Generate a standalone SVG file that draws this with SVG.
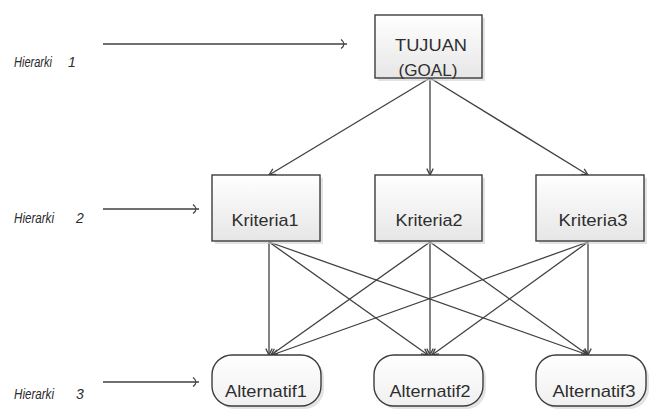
<svg xmlns="http://www.w3.org/2000/svg" width="651" height="419" viewBox="0 0 651 419">
<style>
  .box { stroke: #3c3c3c; stroke-width: 1.4; fill: url(#g); }
  .alt { stroke: #3c3c3c; stroke-width: 1.4; fill: url(#g2); }
  .shadow { fill: #d0d0d0; opacity: 0.6; }
  .lbl { font-family: "Liberation Sans", Arial, sans-serif; font-size: 17px; fill: #2e2e2e; text-anchor: middle; }
  .h { font-family: "Liberation Sans", Arial, sans-serif; font-size: 14px; font-style: italic; fill: #2a2a2a; }
  .c line { stroke: #404040; stroke-width: 1.3; fill: none; marker-end: url(#ah); }
  .hl { stroke: #404040; stroke-width: 1.3; fill: none; marker-end: url(#ah2); }
</style>
<defs>
  <linearGradient id="g" x1="0" y1="0" x2="0" y2="1">
    <stop offset="0" stop-color="#ffffff"/>
    <stop offset="1" stop-color="#e6e6e6"/>
  </linearGradient>
  <linearGradient id="g2" x1="0" y1="0" x2="0" y2="1">
    <stop offset="0" stop-color="#ffffff"/>
    <stop offset="1" stop-color="#f0f0f0"/>
  </linearGradient>
  <marker id="ah" viewBox="0 0 10 10" refX="9" refY="5" markerWidth="8" markerHeight="8" markerUnits="userSpaceOnUse" orient="auto">
    <path d="M1,1 L9,5 L1,9" fill="none" stroke="#404040" stroke-width="1.6"/>
  </marker>
  <marker id="ah2" viewBox="0 0 10 10" refX="9" refY="5" markerWidth="10" markerHeight="10" markerUnits="userSpaceOnUse" orient="auto">
    <path d="M3,0.5 Q9,5 3,9.5" fill="none" stroke="#404040" stroke-width="1.2"/>
  </marker>
</defs>
<rect width="651" height="419" fill="#ffffff"/>

<g id="levels">
  <text class="h" x="14" y="67"><tspan textLength="38" lengthAdjust="spacingAndGlyphs">Hierarki</tspan><tspan x="68">1</tspan></text>
  <line class="hl" x1="103" y1="44" x2="347" y2="44"/>
  <text class="h" x="14" y="223"><tspan textLength="40" lengthAdjust="spacingAndGlyphs">Hierarki</tspan><tspan x="76">2</tspan></text>
  <line class="hl" x1="103" y1="209" x2="199" y2="209"/>
  <text class="h" x="14" y="399"><tspan textLength="40" lengthAdjust="spacingAndGlyphs">Hierarki</tspan><tspan x="76">3</tspan></text>
  <line class="hl" x1="103" y1="382" x2="199" y2="382"/>
</g>

<g id="connectors" class="c">
  <line x1="430" y1="78" x2="269" y2="175"/>
  <line x1="430" y1="78" x2="430" y2="175"/>
  <line x1="430" y1="78" x2="588" y2="175"/>

  <line x1="269" y1="242" x2="269" y2="355"/>
  <line x1="269" y1="242" x2="428" y2="355"/>
  <line x1="269" y1="242" x2="588" y2="355"/>
  <line x1="430" y1="242" x2="271" y2="355"/>
  <line x1="430" y1="242" x2="430" y2="355"/>
  <line x1="430" y1="242" x2="588" y2="355"/>
  <line x1="588" y1="242" x2="272" y2="355"/>
  <line x1="588" y1="242" x2="432" y2="355"/>
  <line x1="588" y1="242" x2="588" y2="355"/>
</g>

<g id="goal">
  <rect class="shadow" x="378" y="18" width="107" height="63"/>
  <rect class="box" x="375" y="15" width="107" height="63"/>
  <text class="lbl" x="431" y="51" textLength="72" lengthAdjust="spacingAndGlyphs">TUJUAN</text>
  <text class="lbl" x="428" y="76" textLength="59" lengthAdjust="spacingAndGlyphs">(GOAL)</text>
</g>

<g id="kriteria1">
  <rect class="shadow" x="215" y="178" width="108" height="66"/>
  <rect class="box" x="212" y="175" width="108" height="66"/>
  <text class="lbl" x="265" y="226" textLength="67" lengthAdjust="spacingAndGlyphs">Kriteria1</text>
</g>
<g id="kriteria2">
  <rect class="shadow" x="378" y="178" width="107" height="66"/>
  <rect class="box" x="375" y="175" width="107" height="66"/>
  <text class="lbl" x="429" y="226" textLength="67" lengthAdjust="spacingAndGlyphs">Kriteria2</text>
</g>
<g id="kriteria3">
  <rect class="shadow" x="539" y="178" width="108" height="66"/>
  <rect class="box" x="536" y="175" width="108" height="66"/>
  <text class="lbl" x="593" y="226" textLength="69" lengthAdjust="spacingAndGlyphs">Kriteria3</text>
</g>

<g id="alternatif1">
  <rect class="shadow" x="215" y="358" width="109" height="51" rx="20" ry="20"/>
  <rect class="alt" x="212" y="355" width="109" height="51" rx="20" ry="20"/>
  <text class="lbl" x="266" y="397" textLength="82" lengthAdjust="spacingAndGlyphs">Alternatif1</text>
</g>
<g id="alternatif2">
  <rect class="shadow" x="377" y="358" width="109" height="51" rx="20" ry="20"/>
  <rect class="alt" x="374" y="355" width="109" height="51" rx="20" ry="20"/>
  <text class="lbl" x="430" y="397" textLength="81" lengthAdjust="spacingAndGlyphs">Alternatif2</text>
</g>
<g id="alternatif3">
  <rect class="shadow" x="539" y="358" width="110" height="51" rx="20" ry="20"/>
  <rect class="alt" x="536" y="355" width="110" height="51" rx="20" ry="20"/>
  <text class="lbl" x="594" y="397" textLength="83" lengthAdjust="spacingAndGlyphs">Alternatif3</text>
</g>
</svg>
